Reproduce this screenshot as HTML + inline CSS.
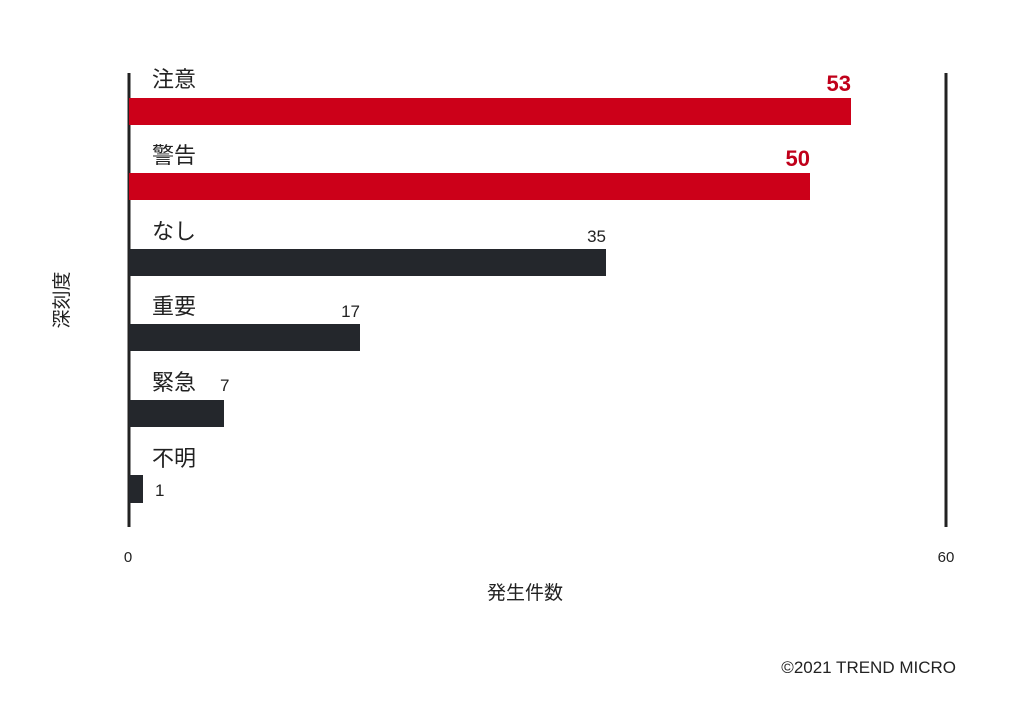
<!DOCTYPE html>
<html><head><meta charset="utf-8"><style>
html,body{margin:0;padding:0;background:#fff;}
svg text{font-family:"Liberation Sans","Noto Sans CJK JP",sans-serif;}
</style></head><body>
<svg width="1024" height="716" viewBox="0 0 1024 716" xmlns="http://www.w3.org/2000/svg">
<rect width="1024" height="716" fill="#fff"/>
<line x1="129" y1="73" x2="129" y2="527" stroke="#222" stroke-width="3"/>
<line x1="946" y1="73" x2="946" y2="527" stroke="#222" stroke-width="3"/>
<g font-size="22" fill="#222">
<text x="152" y="87">注意</text>
<text x="152" y="163">警告</text>
<text x="152" y="239">なし</text>
<text x="152" y="314">重要</text>
<text x="152" y="390">緊急</text>
<text x="152" y="466">不明</text>
</g>
<rect x="129" y="98" width="722" height="27" fill="#cc0019"/>
<rect x="129" y="173" width="681" height="27" fill="#cc0019"/>
<rect x="129" y="249" width="477" height="27" fill="#24272c"/>
<rect x="129" y="324" width="231" height="27" fill="#24272c"/>
<rect x="129" y="400" width="95" height="27" fill="#24272c"/>
<rect x="129" y="475" width="14" height="28" fill="#24272c"/>
<g font-size="22" font-weight="bold" fill="#c0001a" text-anchor="end">
<text x="851" y="91">53</text>
<text x="810" y="166">50</text>
</g>
<g font-size="17" fill="#222">
<text x="606" y="242" text-anchor="end">35</text>
<text x="360" y="317" text-anchor="end">17</text>
<text x="220" y="391">7</text>
<text x="155" y="496">1</text>
<text x="128" y="562" text-anchor="middle" font-size="15">0</text>
<text x="946" y="562" text-anchor="middle" font-size="15">60</text>
</g>
<text x="525" y="599" text-anchor="middle" font-size="19" fill="#222">発生件数</text>
<text transform="translate(68,300) rotate(-90)" text-anchor="middle" font-size="19" fill="#222">深刻度</text>
<text x="956" y="673" text-anchor="end" font-size="17" fill="#222">©2021 TREND MICRO</text>
</svg>
</body></html>
